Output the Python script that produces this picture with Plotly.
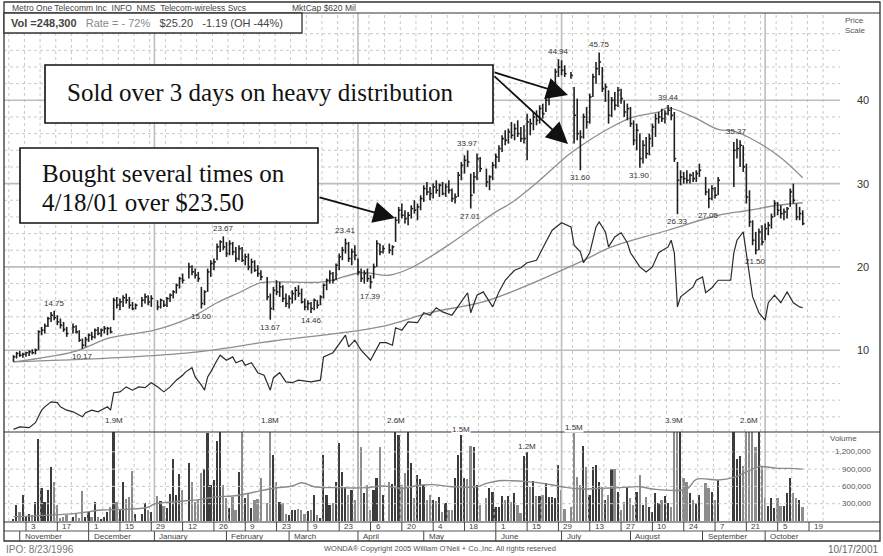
import numpy as np
import pandas as pd
import plotly.graph_objects as go

# ---------------------------------------------------------------- data
holidays = ["2000-11-23", "2000-12-25", "2001-01-01", "2001-01-15", "2001-02-19",
            "2001-04-13", "2001-05-28", "2001-07-04", "2001-09-03",
            "2001-09-11", "2001-09-12", "2001-09-13", "2001-09-14"]

high = [
    9.4, 9.8, 9.9, 9.7, 9.8,
    10.0, 10.1, 10.2, 12.4, 12.8,
    13.2, 14.0, 14.6, 14.75, 14.2,
    13.8, 13.4, 12.8, 13.2,
    13.0, 12.4, 11.4, 11.6, 12.0,
    12.2, 12.6, 12.8, 12.6, 12.9,
    12.8, 12.8, 16.3, 16.4, 16.2,
    16.6, 16.8, 16.4, 15.8, 15.6,
    16.4, 16.8, 16.6, 16.6,
    16.0, 16.2, 16.0, 16.4,
    16.8, 17.2, 18.0, 18.8, 19.2,
    20.5, 20.2, 19.8, 19.4,
    17.6, 17.2, 19.8, 20.8, 21.0,
    22.8, 23.2, 23.67, 23.0, 23.2,
    23.0, 22.4, 22.6, 22.4, 21.6,
    21.6, 21.0, 20.8, 20.2, 19.6,
    18.8, 16.8, 17.6, 18.4,
    18.2, 17.8, 16.8, 16.6, 17.2,
    17.6, 17.8, 17.4, 16.2, 16.0,
    15.8, 16.2, 16.0, 16.6, 18.0,
    18.6, 19.6, 19.4, 20.4, 21.6,
    22.4, 23.41, 23.0, 22.2, 22.6,
    21.0, 19.8, 19.6, 19.8, 19.0,
    20.4, 23.2, 22.8, 22.6,
    22.8, 22.6, 26.0, 27.2, 27.6,
    26.8, 26.6, 27.4, 28.0, 27.6,
    28.6, 29.8, 30.2, 29.6, 30.0,
    30.4, 30.0, 30.2, 30.0, 30.4,
    29.4, 28.8, 31.4, 32.6, 33.4,
    33.97, 31.2, 31.4, 33.6, 33.2,
    31.8, 31.0, 32.6, 33.6,
    34.6, 35.8, 36.4, 36.6, 37.4,
    37.2, 37.6, 36.8, 37.0, 38.4,
    37.8, 38.6, 38.8, 39.4, 39.6,
    40.4, 41.6, 42.4, 43.8, 44.94,
    44.8, 44.2, 43.4, 41.6,
    40.2, 36.4, 38.4, 39.2, 40.8,
    43.2, 44.6, 45.75, 44.0, 42.0,
    41.2, 40.4, 41.0, 41.6, 41.4,
    40.0, 39.6, 39.2, 37.6, 37.2,
    36.0, 35.2, 35.6, 36.0, 37.2,
    38.4, 38.6, 39.0, 38.8, 39.44,
    39.2, 38.6, 32.6, 31.6, 31.4,
    31.6, 31.2, 31.4, 31.6, 32.4,
    30.8, 29.4, 29.8, 29.6,
    30.8,
    35.0, 35.37, 35.2, 34.6, 32.4,
    29.2, 25.6, 24.2, 24.6, 25.0,
    25.2, 25.4, 26.4, 28.0, 27.8,
    27.4, 27.0, 27.2, 29.4, 30.0,
    27.6, 27.2, 26.8,
]

low = [
    8.6, 9.0, 9.2, 9.1, 9.2,
    9.3, 9.5, 9.5, 10.0, 11.8,
    12.0, 12.8, 13.4, 13.6, 13.0,
    12.6, 12.2, 11.6, 12.0,
    12.0, 11.0, 10.17, 10.4, 11.0,
    11.2, 11.4, 11.8, 11.6, 12.0,
    11.8, 12.0, 13.6, 15.0, 14.8,
    15.2, 15.6, 15.0, 14.8, 14.9,
    15.2, 15.6, 15.4, 15.2,
    14.8, 15.0, 15.2, 15.2,
    15.8, 16.2, 16.8, 17.4, 18.0,
    18.6, 19.0, 18.6, 18.2,
    15.0, 15.4, 17.0, 18.8, 19.6,
    20.8, 21.8, 22.0, 21.2, 21.4,
    21.4, 20.6, 20.8, 20.6, 20.2,
    19.6, 19.2, 19.4, 18.8, 18.4,
    16.0, 13.67, 14.8, 16.6,
    16.4, 15.8, 15.2, 15.0, 15.6,
    16.0, 16.4, 15.6, 14.8, 14.8,
    14.46, 14.8, 15.0, 15.4, 16.2,
    17.2, 18.0, 18.0, 18.4, 19.6,
    20.8, 21.6, 20.6, 20.2, 20.8,
    19.0, 18.2, 18.0, 18.2, 17.39,
    18.6, 20.0, 21.4, 21.6,
    21.6, 21.4, 23.0, 25.2, 25.8,
    25.2, 25.0, 25.8, 26.4, 25.6,
    26.8, 27.8, 28.6, 28.0, 28.2,
    28.8, 28.4, 28.6, 28.4, 28.8,
    27.8, 27.6, 28.4, 30.4, 31.2,
    32.0, 27.01, 28.8, 30.4, 31.4,
    29.6, 29.2, 30.4, 31.8,
    32.6, 33.8, 34.6, 34.8, 35.4,
    35.2, 35.6, 35.0, 34.8, 32.8,
    35.8, 36.4, 37.0, 37.2, 37.8,
    38.6, 39.4, 40.6, 41.6, 42.8,
    43.0, 42.8, 42.6, 34.8,
    35.2, 31.6, 35.4, 36.6, 37.2,
    40.4, 42.0, 43.0, 41.0, 39.8,
    37.2, 38.0, 38.8, 39.2, 39.6,
    38.0, 37.6, 36.8, 34.6, 34.0,
    31.9, 32.4, 33.0, 33.4, 34.4,
    35.6, 37.2, 37.4, 37.2, 38.2,
    37.6, 32.6, 26.33, 29.8, 30.0,
    30.0, 30.0, 30.2, 30.2, 30.8,
    28.6, 27.05, 28.0, 28.2,
    28.6,
    29.6, 33.0, 32.0, 31.4, 27.6,
    24.8, 22.6, 21.5, 22.0, 22.6,
    23.2, 23.8, 24.6, 26.0, 26.2,
    25.8, 25.6, 25.8, 27.2, 27.6,
    25.6, 25.6, 25.0,
]

close = [
    9.2, 9.6, 9.4, 9.5, 9.7,
    9.8, 9.7, 10.0, 12.2, 12.4,
    12.9, 13.8, 14.2, 13.9, 13.4,
    13.0, 12.5, 12.0, 12.8,
    12.2, 11.2, 10.6, 11.3, 11.8,
    11.6, 12.4, 12.0, 12.4, 12.6,
    12.6, 12.2, 16.0, 15.4, 15.8,
    16.3, 16.0, 15.4, 15.0, 15.4,
    16.0, 16.4, 15.8, 16.2,
    15.2, 16.0, 15.4, 16.2,
    16.6, 17.0, 17.8, 18.6, 18.4,
    20.0, 19.4, 19.0, 18.6,
    15.6, 17.0, 19.4, 20.4, 20.6,
    22.4, 23.0, 22.4, 21.6, 22.8,
    21.8, 21.0, 22.2, 20.8, 21.2,
    20.0, 20.6, 19.6, 19.2, 18.8,
    16.4, 15.0, 17.2, 17.0,
    17.6, 16.2, 15.6, 16.2, 16.8,
    17.2, 16.8, 15.8, 15.2, 15.6,
    15.0, 16.0, 15.4, 16.4, 17.8,
    18.4, 19.2, 18.4, 20.2, 21.2,
    22.0, 22.8, 21.0, 21.8, 21.4,
    19.4, 18.6, 19.2, 18.6, 18.2,
    20.0, 22.8, 21.8, 22.2,
    22.0, 22.4, 25.6, 26.8, 26.2,
    25.8, 26.2, 27.0, 26.8, 27.2,
    28.2, 29.4, 29.0, 28.8, 29.6,
    29.2, 29.8, 28.8, 29.6, 29.2,
    28.2, 28.4, 31.0, 32.2, 32.8,
    32.6, 28.6, 30.8, 33.0, 31.8,
    30.2, 30.8, 32.2, 33.2,
    34.2, 35.4, 35.2, 36.2, 35.8,
    36.6, 36.0, 35.4, 35.4, 37.4,
    37.2, 38.0, 37.6, 39.0, 38.4,
    40.0, 41.2, 42.0, 43.4, 44.0,
    43.6, 43.2, 43.0, 38.2,
    36.0, 35.6, 38.0, 37.4, 40.4,
    42.8, 43.8, 44.6, 41.4, 41.6,
    38.2, 40.0, 39.4, 41.2, 40.2,
    38.6, 39.0, 37.2, 35.2, 36.4,
    33.0, 34.6, 33.6, 35.4, 36.8,
    37.8, 38.0, 37.8, 38.4, 38.8,
    38.2, 33.0, 30.4, 30.8, 30.6,
    30.4, 31.0, 30.6, 31.2, 31.6,
    29.0, 28.2, 29.4, 28.6,
    30.4,
    34.0, 34.2, 34.6, 32.0, 28.4,
    25.4, 23.2, 22.0, 24.2, 23.0,
    24.6, 25.0, 26.0, 27.6, 26.8,
    26.4, 26.6, 27.0, 29.0, 28.0,
    26.0, 26.4, 25.2,
]

vol_k = [
    30, 280, 160, 450, 75,
    130, 100, 335, 1430, 570,
    335, 540, 940, 680, 280,
    45, 75, 100, 75,
    130, 45, 520, 75, 160,
    75, 335, 75, 20, 75,
    160, 250, 1900, 335, 190,
    680, 375, 410, 870, 130,
    130, 320, 190, 160,
    430, 345, 260, 220,
    470, 1070, 450, 815, 540,
    1010, 680, 335, 365,
    830, 900, 1520, 625, 710,
    1390, 1560, 625, 395, 220,
    410, 190, 855, 1600, 395,
    490, 220, 365, 380, 740,
    305, 1800, 1150, 680,
    335, 305, 130, 100, 190,
    190, 200, 190, 130, 180,
    190, 450, 100, 45, 1150,
    450, 280, 305, 680, 1360,
    855, 595, 450, 540, 365,
    1700, 1290, 480, 625, 190,
    540, 740, 1280, 450,
    680, 650, 2600, 1490, 625,
    830, 1600, 1000, 395, 800,
    725, 625, 365, 450, 365,
    345, 420, 160, 305, 190,
    190, 740, 1150, 1490, 740,
    725, 1300, 1280, 625, 280,
    395, 565, 510, 250,
    250, 435, 365, 435, 335,
    490, 280, 145, 1130, 1200,
    595, 700, 435, 435, 450,
    655, 410, 420, 395, 970,
    540, 200, 250, 1520,
    770, 625, 1300, 940, 450,
    940, 970, 680, 595, 365,
    450, 910, 910, 510, 190,
    335, 595, 395, 280, 510,
    800, 280, 420, 250, 160,
    480, 305, 365, 435, 305,
    250, 3900, 2200, 1700, 740,
    680, 480, 365, 305, 450,
    655, 565, 510, 365,
    710,
    2000, 1070, 1120, 955, 2200,
    2600, 1900, 1290, 1700, 940,
    395, 260, 395, 220, 395,
    260, 260, 480, 740, 480,
    395, 365, 248,
]

# 50-day and 200-day price moving averages (weekday number from 2000-11-03, value)
ma50_day = [-4, 15, 27, 41, 53, 61, 68, 75, 81, 95, 107, 116, 123, 134, 145, 150, 155,
            164, 173, 179, 187, 194, 202, 205, 213, 221, 226, 231, 240, 248]
ma50_val = [8.6, 9.8, 11.5, 12.4, 14.0, 15.7, 16.9, 18.1, 18.2, 18.2, 19.3, 19.0, 19.9,
            22.4, 25.3, 26.6, 27.7, 30.4, 33.4, 35.0, 36.8, 38.0, 38.6, 39.1, 38.0, 36.5,
            36.3, 35.5, 33.4, 30.7]
ma200_day = [-4, 34, 55, 75, 81, 113, 129, 145, 155, 177, 187, 205, 221, 231, 240, 248]
ma200_val = [8.6, 9.2, 9.8, 10.9, 11.2, 12.8, 14.5, 15.7, 17.0, 20.6, 22.4, 24.4, 26.2,
             26.8, 27.4, 27.7]

# relative strength line (plotted on the price panel)
rs_day = [-4, -2, 1, 3, 5, 6, 8, 10, 11, 13, 15, 18, 19, 21, 23, 26, 27, 28, 30, 32, 34,
          36, 38, 40, 42, 44, 46, 48, 50, 51, 53, 54, 56, 57, 58, 59, 61, 62, 64, 66, 67,
          69, 70, 72, 74, 76, 78, 79, 81, 83, 85, 87, 91, 94, 95, 98, 102, 103, 105, 107,
          110, 113, 115, 117, 118, 120, 122, 125, 127, 129, 131, 133, 136, 139, 141, 142,
          144, 146, 149, 151, 153, 156, 158, 160, 163, 166, 168, 171, 174, 175, 177, 178,
          180, 182, 183, 185, 186, 188, 190, 192, 193, 196, 198, 200, 202, 205, 206, 207,
          208, 209, 211, 213, 214, 216, 217, 219, 221, 225, 226, 227, 229, 230, 232, 234,
          236, 237, 239, 241, 243, 245, 247, 248]
rs_val = [0.5, 0.8, 0.7, 1.3, 2.8, 3.2, 3.8, 3.7, 3.2, 2.8, 2.6, 2.0, 2.5, 2.8, 2.6, 3.2,
          2.8, 4.9, 5.0, 5.6, 5.2, 5.6, 5.5, 6.1, 5.6, 5.0, 5.6, 6.4, 7.0, 7.4, 7.9, 6.8,
          5.8, 5.2, 6.8, 7.4, 8.8, 9.4, 8.8, 9.2, 8.5, 8.8, 8.2, 8.5, 7.3, 7.0, 5.2, 6.7,
          7.3, 6.2, 6.1, 6.4, 6.2, 6.4, 9.2, 9.7, 11.8, 10.4, 11.2, 10.0, 8.8, 10.9, 10.9,
          10.6, 12.7, 12.4, 13.4, 13.3, 14.5, 14.2, 15.1, 14.6, 14.2, 15.8, 16.9, 14.5,
          16.6, 17.0, 15.2, 17.0, 18.4, 19.6, 19.9, 20.5, 20.8, 23.0, 24.4, 25.3, 24.8,
          22.6, 21.8, 20.5, 21.7, 24.8, 25.4, 24.2, 22.4, 23.6, 24.1, 22.9, 21.7, 20.0,
          19.4, 20.0, 21.7, 22.4, 23.2, 21.7, 15.2, 16.4, 17.0, 17.6, 18.4, 18.8, 16.9,
          17.5, 18.4, 18.4, 21.7, 23.2, 24.2, 21.7, 16.4, 14.5, 13.6, 15.7, 16.6, 15.7,
          17.0, 15.7, 15.2, 15.1]

# 50-day average volume (thousands of shares)
volma_day = [-4, 16, 24, 32, 39, 41, 48, 56, 61, 66, 72, 79, 85, 88, 92, 98, 109, 114,
             120, 126, 130, 136, 144, 147, 151, 155, 160, 165, 171, 177, 183, 190, 196,
             200, 211, 214, 221, 226, 231, 234, 240, 244, 248]
volma_k = [75, 133, 190, 203, 238, 295, 335, 376, 421, 433, 491, 567, 607, 664, 595, 578,
           578, 607, 567, 624, 630, 595, 595, 653, 699, 699, 682, 653, 595, 555, 566, 578,
           595, 555, 555, 723, 711, 757, 872, 942, 913, 913, 900]

hi_label_dates = ["2000-11-16", "2001-01-31", "2001-03-27", "2001-05-21", "2001-06-29",
                  "2001-07-18", "2001-08-17", "2001-09-18"]
lo_label_dates = ["2000-11-29", "2001-01-22", "2001-02-21", "2001-03-12", "2001-04-06",
                  "2001-05-22", "2001-07-10", "2001-08-06", "2001-08-22", "2001-09-05",
                  "2001-09-26"]
vol_label_dates = ["2000-12-13", "2001-02-21", "2001-04-18", "2001-05-17", "2001-06-15",
                   "2001-07-06", "2001-08-21", "2001-09-24"]

price_ticks = [10, 20, 30, 40]
vol_ticks = [300000, 600000, 900000, 1200000]
quarter_starts = ["2001-01-01", "2001-04-02", "2001-07-02", "2001-10-01"]
month_names = ["November", "December", "January", "February", "March", "April", "May",
               "June", "July", "August", "September", "October"]

# ---------------------------------------------------------------- layout calibration
W, H = 883, 556
REF = np.datetime64("2000-11-03")
X0, DX = 26.0, 3.132          # px of reference day, px per weekday
P0, DP = 433.5, 8.33          # py of price 0, px per dollar
V0, DV = 521.0, 17.3 / 300000  # py of zero volume, px per share
TOP, MID, VBOT, ROW, BOT = 13, 432, 521, 531, 541


def wd(d):
    return int(np.busday_count(REF, np.datetime64(pd.Timestamp(d).date(), "D")))


def xa(px):
    return (px - X0) / DX


def pa(py):
    return (P0 - py) / DP


def yp(py):
    return 1 - py / H


def xp(px):
    return px / W


tdays = [d for d in pd.bdate_range("2000-10-30", "2001-10-17")
         if d.strftime("%Y-%m-%d") not in holidays]
assert len(tdays) == len(high) == len(low) == len(close) == len(vol_k)
xi = [wd(d) for d in tdays]
pos = {d.strftime("%Y-%m-%d"): k for k, d in enumerate(tdays)}

fig = go.Figure()


def lines(xs, ys, color, width, dash=None, yaxis="y", shape="linear"):
    fig.add_trace(go.Scatter(x=xs, y=ys, mode="lines", yaxis=yaxis, hoverinfo="skip",
                             line=dict(color=color, width=width, dash=dash, shape=shape)))


GX0, GX1 = xa(4), xa(840)
PMIN, PMAX = pa(MID), pa(TOP)
VMAX = (V0 - MID) / DV

# ---- grid (price panel)
gx, gy = [], []
for v in range(2, 52, 2):
    if v % 10:
        gx += [GX0, GX1, None]
        gy += [v, v, None]
fridays = pd.date_range("2000-10-27", "2001-10-26", freq="W-FRI")
for d in fridays:
    x = wd(d) - 0.5
    gx += [x, x, None]
    gy += [PMIN, PMAX, None]
lines(gx, gy, "#c9c9c9", 1, "dot")
sx, sy = [], []
for v in price_ticks:
    sx += [GX0, GX1, None]
    sy += [v, v, None]
for q in quarter_starts:
    sx += [wd(q), wd(q), None]
    sy += [PMIN, PMAX, None]
lines(sx, sy, "#bdbdbd", 1.6)

# ---- grid (volume panel)
vx, vy = [], []
for v in vol_ticks:
    vx += [GX0, GX1, None]
    vy += [v, v, None]
for d in fridays:
    x = wd(d) - 0.5
    vx += [x, x, None]
    vy += [0, VMAX, None]
lines(vx, vy, "#c9c9c9", 1, "dot", yaxis="y2")
qx, qy = [], []
for q in quarter_starts:
    qx += [wd(q), wd(q), None]
    qy += [0, VMAX, None]
lines(qx, qy, "#bdbdbd", 1.6, yaxis="y2")

# ---- moving averages and RS line
lines(ma200_day, ma200_val, "#8e8e8e", 1.3, shape="spline")
lines(ma50_day, ma50_val, "#8e8e8e", 1.3, shape="spline")
lines(rs_day, rs_val, "#2b2b2b", 1.2)

# ---- price bars
bx, by = [], []
for x, h, l, c in zip(xi, high, low, close):
    bx += [x, x, None, x, x + 0.6, None]
    by += [l, h, None, c, c, None]
lines(bx, by, "#1f1f1f", 1.6)

# ---- volume bars
vcol = ["#3c3c3c" if k == 0 or close[k] >= close[k - 1] else "#8c8c8c"
        for k in range(len(close))]
fig.add_trace(go.Bar(x=xi, y=[v * 1000 for v in vol_k], width=0.55, yaxis="y2",
                     marker=dict(color=vcol, line=dict(width=0)), hoverinfo="skip"))
lines(volma_day, [v * 1000 for v in volma_k], "#8a8a8a", 1.4, yaxis="y2", shape="spline")

ann = []
SANS = "Liberation Sans, Arial, sans-serif"
SERIF = "Liberation Serif, Times New Roman, serif"


def text(px, py, s, size=9, color="#333", anchor="left", bold=False, font=SANS, **kw):
    d = dict(x=xp(px), y=yp(py), xref="paper", yref="paper", text=(f"<b>{s}</b>" if bold else s),
             showarrow=False, xanchor=anchor, yanchor="middle",
             font=dict(family=font, size=size, color=color))
    d.update(kw)
    ann.append(d)


# ---- high / low labels
for d in hi_label_dates:
    k = pos[d]
    ann.append(dict(x=xi[k], y=high[k], xref="x", yref="y", text=f"{high[k]:.2f}",
                    showarrow=False, yanchor="bottom", yshift=1,
                    font=dict(family=SANS, size=8, color="#333")))
for d in lo_label_dates:
    k = pos[d]
    ann.append(dict(x=xi[k], y=low[k], xref="x", yref="y", text=f"{low[k]:.2f}",
                    showarrow=False, yanchor="top", yshift=-1,
                    font=dict(family=SANS, size=8, color="#333")))
# ---- volume labels (placed above the bar, or above the panel when the bar is cut off)
for d in vol_label_dates:
    k = pos[d]
    v = vol_k[k] * 1000
    top_py = max(V0 - v * DV, 426)
    ann.append(dict(x=xi[k], y=yp(top_py), xref="x", yref="paper", text=f"{v / 1e6:.1f}M",
                    showarrow=False, yanchor="bottom", bgcolor="white", borderpad=0,
                    font=dict(family=SANS, size=8, color="#333")))

# ---- right-hand scales
text(843, 21, "Price", 8, "#555")
text(843, 30, "Scale", 8, "#555")
for v in price_ticks:
    ann.append(dict(x=xp(871), y=v, xref="paper", yref="y", text=str(v), showarrow=False,
                    xanchor="right", yanchor="middle",
                    font=dict(family=SANS, size=11, color="#333")))
text(828, 438, "Volume", 8, "#555")
for v in vol_ticks:
    ann.append(dict(x=xp(873), y=v, xref="paper", yref="y2", text=f"{v:,}", showarrow=False,
                    xanchor="right", yanchor="middle",
                    font=dict(family=SANS, size=8, color="#555")))

# ---- header
text(10, 7.5, "Metro One Telecomm Inc&nbsp;&nbsp;INFO&nbsp;&nbsp;NMS&nbsp;&nbsp;Telecom-wireless Svcs",
     8.5, "#444")
text(290, 7.5, "MktCap $620 Mil", 8.5, "#444")
text(9, 23.5, "<b>Vol =248,300</b>&nbsp;&nbsp;&nbsp;<span style='color:#8a8a8a'>Rate = - 72%</span>"
     "&nbsp;&nbsp;&nbsp;$25.20&nbsp;&nbsp;&nbsp;-1.19 (OH -44%)", 11, "#444")

# ---- date rows
ticks = pd.date_range("2000-11-03", "2001-10-19", freq="2W-FRI")
shapes = []
for d in ticks:
    shapes.append(dict(type="line", xref="x", yref="paper", x0=wd(d), x1=wd(d),
                       y0=yp(ROW), y1=yp(VBOT + 1), line=dict(color="#444", width=1)))
    ann.append(dict(x=wd(d), y=yp(526.5), xref="x", yref="paper", text=str(d.day),
                    showarrow=False, xanchor="left", yanchor="middle", xshift=3,
                    font=dict(family=SANS, size=8, color="#444")))
mstarts = pd.date_range("2000-11-01", "2001-10-01", freq="BMS")
for d, name in zip(mstarts, month_names):
    shapes.append(dict(type="line", xref="x", yref="paper", x0=wd(d), x1=wd(d),
                       y0=yp(BOT), y1=yp(ROW), line=dict(color="#444", width=1)))
    ann.append(dict(x=wd(d), y=yp(536), xref="x", yref="paper", text=name,
                    showarrow=False, xanchor="left", yanchor="middle", xshift=3,
                    font=dict(family=SANS, size=8, color="#444")))


# ---- frame lines
def hline(py, x0=4, x1=880, color="#333", width=1.2):
    shapes.append(dict(type="line", xref="paper", yref="paper", x0=xp(x0), x1=xp(x1),
                       y0=yp(py), y1=yp(py), line=dict(color=color, width=width)))


hline(TOP)
hline(MID)
hline(VBOT + 1)
hline(ROW, color="#555", width=1)
shapes.append(dict(type="rect", xref="paper", yref="paper", x0=xp(4), x1=xp(880),
                   y0=yp(BOT), y1=yp(2), line=dict(color="#333", width=1.3)))
shapes.append(dict(type="rect", xref="paper", yref="paper", x0=xp(4), x1=xp(302),
                   y0=yp(33), y1=yp(TOP), fillcolor="white", layer="above",
                   line=dict(color="#333", width=1.3)))

# ---- commentary boxes and arrows
shapes.append(dict(type="rect", xref="paper", yref="paper", x0=xp(45), x1=xp(493),
                   y0=yp(123), y1=yp(65), fillcolor="white", layer="above",
                   line=dict(color="#111", width=1.6)))
shapes.append(dict(type="rect", xref="paper", yref="paper", x0=xp(20), x1=xp(318),
                   y0=yp(223), y1=yp(148), fillcolor="white", layer="above",
                   line=dict(color="#111", width=1.6)))
text(65, 93, "Sold over 3 days on heavy distribution", 25, "#111", font=SERIF)
text(40, 173, "Bought several times on", 25, "#111", font=SERIF)
text(40, 203, "4/18/01 over $23.50", 25, "#111", font=SERIF)
for tip, tail in [((568, 95), (493, 72)), ((568, 144), (493, 75)), ((395, 218), (318, 197))]:
    ann.append(dict(x=xa(tip[0]), y=pa(tip[1]), ax=xa(tail[0]), ay=pa(tail[1]),
                    xref="x", yref="y", axref="x", ayref="y", text="", showarrow=True,
                    arrowhead=2, arrowsize=2.4, arrowwidth=1.8, arrowcolor="#111",
                    standoff=0, startstandoff=0))

# ---- footer
text(4, 549, "IPO: 8/23/1996", 10, "#777")
text(440, 548, "WONDA\u00ae Copyright 2005 William O'Neil + Co.,Inc. All rights reserved",
     7.5, "#555", anchor="center")
text(880, 549, "10/17/2001", 10, "#666", anchor="right")

fig.update_layout(
    width=W, height=H, margin=dict(l=0, r=0, t=0, b=0),
    paper_bgcolor="white", plot_bgcolor="rgba(0,0,0,0)", showlegend=False,
    bargap=0,
    xaxis=dict(range=[xa(0), xa(W)], domain=[0, 1], visible=False, fixedrange=True),
    yaxis=dict(range=[PMIN, PMAX], domain=[yp(MID), yp(TOP)], visible=False,
               fixedrange=True),
    yaxis2=dict(range=[0, VMAX], domain=[yp(VBOT), yp(MID)], visible=False, anchor="x",
                fixedrange=True),
    shapes=shapes, annotations=ann,
)
fig.write_html("out.html", config={"displayModeBar": False, "displaylogo": False},
               post_script="document.body.style.margin='0';document.body.style.overflow='hidden';")
